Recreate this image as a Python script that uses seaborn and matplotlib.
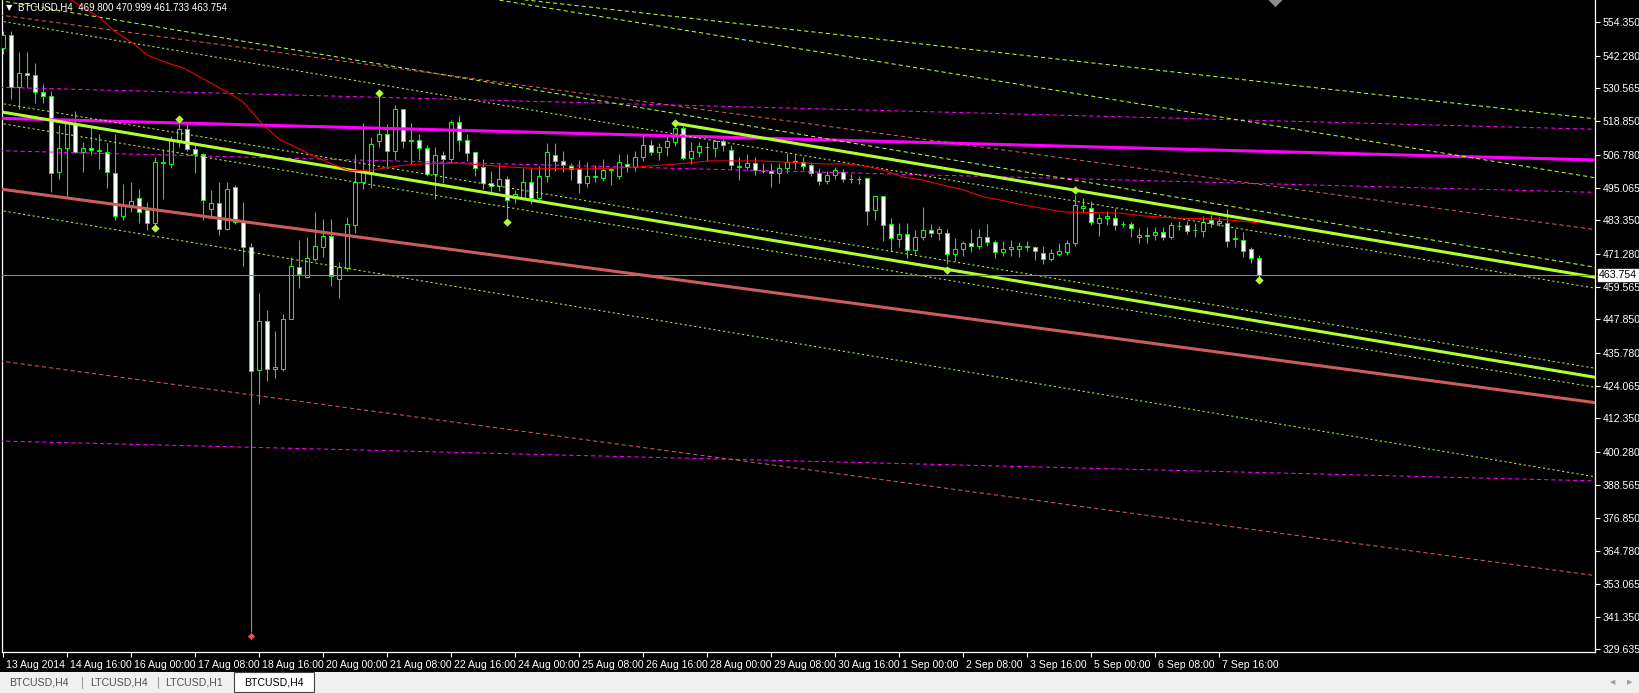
import numpy as np
import pandas as pd
import matplotlib
matplotlib.use("Agg")
import matplotlib.pyplot as plt
import matplotlib.transforms as mtrans
from matplotlib.patches import Rectangle
import seaborn as sns

# ------------------------------------------------------------------ #
# data (BTCUSD H4)
# ------------------------------------------------------------------ #
opens = [545.0, 549.7, 531.0, 536.0, 535.3, 529.2, 527.8, 500.6, 509.2, 518.1,
         507.8, 509.2, 508.2, 507.8, 500.2, 484.8, 488.8, 491.3, 487.0, 482.3,
         504.0, 503.5, 512.1, 516.0, 508.8, 507.0, 487.4, 489.5, 480.2, 495.2,
         482.7, 473.6, 429.7, 447.2, 430.2, 430.2, 447.9, 466.6, 463.0, 469.4,
         473.8, 477.7, 462.3, 466.3, 481.7, 497.0, 500.6, 511.8, 514.2, 508.3,
         523.2, 512.0, 512.1, 509.2, 500.0, 506.7, 505.4, 518.5, 512.1, 507.8,
         502.4, 496.8, 495.6, 498.1, 491.3, 491.3, 497.0, 491.3, 499.2, 506.7,
         504.6, 502.8, 501.7, 496.8, 499.0, 498.6, 501.5, 499.2, 503.5, 502.4,
         506.0, 510.3, 507.9, 509.4, 511.4, 516.4, 505.7, 507.9, 509.4, 509.1,
         511.8, 508.5, 502.9, 502.5, 503.8, 501.0, 501.0, 500.2, 502.2, 504.2,
         504.2, 503.1, 500.1, 497.5, 499.4, 500.7, 498.0, 498.2, 498.4, 487.0,
         492.0, 481.9, 476.6, 478.3, 472.7, 477.2, 479.8, 478.6, 478.6, 471.1,
         473.0, 475.1, 474.2, 477.2, 475.4, 471.9, 472.9, 473.1, 473.9, 473.6,
         471.5, 469.6, 471.3, 472.1, 475.1, 487.8, 487.8, 482.2, 484.0, 484.0,
         482.0, 481.9, 477.2, 477.8, 477.9, 479.1, 477.4, 481.4, 481.6, 479.8,
         479.6, 483.4, 482.4, 482.2, 476.6, 476.4, 472.9, 469.8]
highs = [551.1, 551.1, 543.6, 543.6, 539.6, 532.1, 529.6, 517.5, 518.5, 522.3,
         511.4, 516.7, 514.2, 511.0, 514.2, 496.3, 497.0, 494.5, 489.9, 506.0,
         508.9, 513.5, 519.2, 518.1, 511.0, 507.4, 494.2, 497.1, 497.0, 495.9,
         489.9, 475.2, 457.1, 451.2, 443.8, 449.7, 470.1, 476.2, 477.2, 486.3,
         483.8, 483.8, 468.4, 484.5, 507.1, 518.1, 513.1, 528.0, 517.8, 524.6,
         523.2, 518.1, 514.2, 510.3, 509.6, 508.3, 519.4, 520.7, 514.2, 507.8,
         505.2, 500.9, 503.5, 499.2, 494.2, 502.0, 502.0, 502.7, 511.0, 511.0,
         508.2, 504.0, 504.9, 504.3, 503.1, 505.2, 502.0, 507.1, 507.1, 508.2,
         513.9, 512.1, 511.1, 513.5, 518.9, 517.0, 511.4, 511.4, 511.4, 512.1,
         512.5, 510.3, 506.1, 507.1, 505.9, 503.8, 503.8, 503.8, 507.4, 507.1,
         506.1, 504.3, 502.0, 501.1, 502.5, 501.7, 499.8, 499.3, 498.6, 492.0,
         492.0, 484.0, 482.2, 482.5, 479.8, 488.0, 482.0, 481.3, 480.2, 477.1,
         476.0, 480.2, 480.2, 482.0, 476.2, 475.9, 476.2, 475.7, 475.9, 474.1,
         474.1, 472.9, 475.1, 476.2, 492.4, 491.3, 490.2, 485.6, 486.7, 487.6,
         483.1, 482.8, 480.4, 481.0, 481.0, 481.0, 482.8, 483.1, 483.2, 482.2,
         484.8, 485.2, 484.4, 487.4, 480.2, 479.2, 473.9, 471.0]
lows = [542.9, 526.7, 523.1, 530.7, 525.3, 525.3, 493.4, 498.1, 491.3, 507.5,
        500.6, 506.7, 501.7, 494.9, 483.4, 483.4, 486.3, 482.3, 479.8, 479.8,
        490.9, 502.0, 509.6, 508.0, 500.2, 483.4, 484.5, 478.0, 479.8, 481.9,
        467.0, 335.8, 417.6, 425.9, 426.8, 429.5, 447.9, 459.0, 462.6, 468.7,
        470.1, 459.9, 455.6, 465.2, 478.8, 494.7, 494.9, 509.6, 502.0, 504.9,
        509.2, 503.6, 504.9, 499.2, 490.9, 496.6, 504.0, 508.3, 504.6, 499.2,
        494.7, 493.4, 493.8, 484.0, 489.5, 490.6, 489.0, 490.0, 497.0, 501.0,
        500.6, 497.7, 493.1, 495.3, 497.0, 497.4, 496.0, 498.1, 500.6, 501.0,
        504.6, 506.7, 504.9, 506.4, 510.0, 505.0, 503.5, 506.1, 504.6, 506.0,
        508.0, 501.3, 497.7, 501.3, 499.6, 500.2, 495.3, 496.8, 500.2, 501.7,
        501.5, 499.2, 495.9, 496.3, 498.0, 497.0, 496.5, 496.3, 481.6, 483.4,
        476.0, 472.4, 473.6, 469.7, 471.2, 476.2, 477.2, 476.2, 467.6, 468.8,
        470.5, 472.1, 473.0, 474.0, 469.7, 470.4, 470.5, 470.1, 472.4, 469.1,
        467.6, 468.9, 470.5, 471.0, 474.1, 485.9, 481.6, 477.7, 481.6, 479.8,
        481.0, 477.2, 475.3, 475.3, 476.3, 476.2, 476.5, 480.0, 478.5, 477.5,
        477.4, 481.0, 481.2, 473.9, 473.8, 470.0, 468.2, 461.733]
closes = [549.7, 531.0, 536.0, 535.3, 529.2, 527.7, 500.2, 509.2, 518.1, 507.8,
          509.2, 508.5, 508.5, 500.6, 484.8, 488.8, 490.2, 486.3, 482.3, 504.2,
          504.2, 512.1, 516.0, 508.8, 507.0, 490.6, 489.5, 480.2, 494.5, 482.7,
          473.7, 429.3, 447.2, 430.2, 430.8, 447.9, 466.9, 464.2, 469.8, 474.1,
          477.7, 463.4, 466.6, 482.0, 497.0, 500.6, 510.6, 514.2, 508.3, 523.2,
          511.7, 511.8, 509.2, 500.0, 506.7, 505.4, 518.5, 512.1, 507.4, 502.0,
          496.8, 495.6, 498.1, 490.6, 492.7, 497.0, 491.3, 499.2, 507.8, 504.6,
          503.1, 501.7, 496.8, 499.2, 499.2, 501.3, 501.7, 504.2, 502.4, 506.0,
          510.3, 507.9, 509.6, 511.8, 516.4, 505.7, 508.1, 509.9, 509.6, 511.8,
          510.2, 503.1, 502.5, 503.8, 501.3, 501.1, 500.2, 502.0, 504.2, 504.4,
          502.9, 500.2, 497.5, 499.5, 501.3, 498.1, 498.2, 498.0, 486.8, 492.0,
          481.6, 476.9, 478.3, 472.7, 477.2, 479.8, 478.6, 480.2, 471.1, 473.0,
          475.1, 474.2, 477.2, 475.4, 471.9, 473.0, 473.6, 474.1, 473.9, 472.2,
          469.6, 471.5, 472.2, 475.1, 488.8, 488.5, 482.8, 484.0, 484.8, 481.6,
          482.1, 480.5, 478.0, 477.9, 479.1, 477.4, 481.6, 481.2, 479.6, 479.7,
          482.7, 482.4, 482.9, 476.0, 476.9, 472.3, 469.8, 463.754]

time_labels = ["13 Aug 2014", "14 Aug 16:00", "16 Aug 00:00", "17 Aug 08:00",
               "18 Aug 16:00", "20 Aug 00:00", "21 Aug 08:00", "22 Aug 16:00",
               "24 Aug 00:00", "25 Aug 08:00", "26 Aug 16:00", "28 Aug 00:00",
               "29 Aug 08:00", "30 Aug 16:00", "1 Sep 00:00", "2 Sep 08:00",
               "3 Sep 16:00", "5 Sep 00:00", "6 Sep 08:00", "7 Sep 16:00"]
time_label_bars = list(range(0, 160, 8))

price_ticks = [554.350, 542.280, 530.565, 518.850, 506.780, 495.065, 483.350,
               471.280, 459.565, 447.850, 435.780, 424.065, 412.350, 400.280,
               388.565, 376.850, 364.780, 353.065, 341.350, 329.635]

# red moving average (bar index, price)
ma_bars = [7.0, 8.5, 12.1, 14.0, 16.2, 18.0, 20.5, 22.5, 24.6, 28.0, 30.0, 32.5,
           34.6, 36.0, 38.2, 40.8, 43.3, 46.0, 49.3, 52.0, 56.7, 63.3, 65.8,
           73.3, 79.2, 84.2, 88.3, 94.6, 102.5, 105.5, 107.5, 110.0, 112.5,
           115.0, 117.5, 120.0, 122.5, 124.6, 127.5, 132.5, 139.6, 142.5,
           146.7, 152.0, 155.8, 157.0]
ma_vals = [565.5, 562.2, 555.8, 550.8, 546.8, 542.5, 539.7, 537.9, 534.6, 529.2,
           525.7, 517.4, 512.1, 510.3, 507.1, 503.8, 501.1, 501.3, 502.8, 503.5,
           503.8, 502.4, 502.0, 501.7, 502.4, 503.5, 504.6, 504.6, 503.5, 503.5,
           502.8, 501.3, 498.8, 497.7, 495.9, 494.2, 491.7, 490.6, 488.8, 486.3,
           485.9, 484.9, 484.1, 483.8, 482.7, 482.4]

# trend / channel objects: (bar0, price0, bar1, price1, colour, width, style)
channel_lines = [
    (-1, 519.90, 199, 504.92, "#ff00ff", 2.2, "solid"),
    (-1, 531.00, 199, 515.93, "#ff00ff", 0.75, "dash"),
    (-1, 508.29, 199, 493.33, "#ff00ff", 0.75, "dash"),
    (-1, 404.30, 199, 389.97, "#ff00ff", 0.75, "dash"),
    (-1, 522.50, 199, 427.07, "#adff2f", 2.2, "solid"),
    (-1, 525.51, 199, 430.30, "#adff2f", 0.75, "dot"),
    (-1, 518.34, 199, 423.50, "#adff2f", 0.75, "dot"),
    (-1, 487.15, 199, 391.44, "#adff2f", 0.75, "dot"),
    (84, 518.06, 199, 462.90, "#adff2f", 2.2, "solid"),
    (-1, 555.00, 199, 459.00, "#adff2f", 0.75, "dot"),
    (-1, 562.30, 199, 466.50, "#adff2f", 0.75, "dash"),
    (40, 572.40, 199, 498.56, "#adff2f", 0.75, "dash"),
    (40, 570.30, 199, 519.67, "#adff2f", 0.75, "dash"),
    (-1, 494.75, 199, 418.00, "#cd5c5c", 2.2, "solid"),
    (-1, 557.08, 199, 479.99, "#cd5c5c", 0.75, "dash"),
    (-1, 433.14, 199, 356.05, "#cd5c5c", 0.75, "dash"),
]

# zigzag / fractal points
marker_bars = [19, 22, 47, 63, 84, 118, 134, 157]
marker_vals = [480.6, 519.6, 528.9, 482.7, 518.2, 465.5, 494.2, 461.9]
spike_bar, spike_val = 31, 334.4

last_price = 463.754
header = "BTCUSD,H4  469.800 470.999 461.733 463.754"
tabs = ["BTCUSD,H4", "LTCUSD,H4", "LTCUSD,H1", "BTCUSD,H4"]

# ------------------------------------------------------------------ #
# style
# ------------------------------------------------------------------ #
sns.set_style("dark", {"axes.facecolor": "black", "figure.facecolor": "black"})
plt.rcParams["font.family"] = ["Liberation Sans", "DejaVu Sans"]
plt.rcParams["lines.scale_dashes"] = False

GREEN = "#00ff00"
W, H = 1640, 693

fig = plt.figure(figsize=(W / 100, H / 100), dpi=100)
fig.patch.set_facecolor("black")
ax = fig.add_axes([2 / W, 41 / H, 1593 / W, 652 / H])
ax.set_facecolor("black")

n = len(opens)
x = np.arange(n)
o, h, l, c = map(np.asarray, (opens, highs, lows, closes))

# wicks
ax.vlines(x, l, h, color=GREEN, lw=0.75, zorder=2)
# bodies: bear = white, bull = black
bear = c < o
body_lo = np.minimum(o, c)
body_h = np.maximum(np.abs(c - o), 0.15)
ax.bar(x[bear], body_h[bear], bottom=body_lo[bear], width=0.5,
       color="white", edgecolor=GREEN, linewidth=0.75, zorder=3)
ax.bar(x[~bear], body_h[~bear], bottom=body_lo[~bear], width=0.5,
       color="black", edgecolor=GREEN, linewidth=0.75, zorder=3)

# channel objects
dash_styles = {"solid": "-", "dash": (0, (3.0, 2.2)), "dot": (0, (1.5, 2.0))}
for b0, p0, b1, p1, col, lw, st in channel_lines:
    ax.plot([b0, b1], [p0, p1], color=col, lw=lw, ls=dash_styles[st],
            zorder=4, solid_capstyle="butt")

# moving average
ma_df = pd.DataFrame({"bar": ma_bars, "ma": ma_vals})
sns.lineplot(data=ma_df, x="bar", y="ma", color="#ff0000", lw=0.75,
             ax=ax, zorder=5, sort=False)

# current price line
ax.axhline(last_price, color="#778899", lw=0.75, zorder=4)

# markers
ax.scatter(marker_bars, marker_vals, marker="D", s=18, color="#adff2f",
           zorder=6, linewidths=0)
ax.scatter([spike_bar], [spike_val], marker="D", s=14, color="#e05050",
           zorder=6, linewidths=0)

# chart-shift marker at the top
ax.scatter([158.9], [562.6], marker="D", s=60, color="#8c8c8c", zorder=6,
           clip_on=True, linewidths=0)

ax.set_xlim(-0.1625, 198.96)
ax.set_ylim(328.68, 562.23)
ax.set_xlabel("")
ax.set_ylabel("")

# axes frame
ax.spines["top"].set_visible(False)
for side in ["left", "right", "bottom"]:
    ax.spines[side].set_visible(True)
    ax.spines[side].set_color("white")
    ax.spines[side].set_linewidth(0.9)
ax.grid(False)

# price axis on the right
ax.yaxis.tick_right()
ax.set_yticks(price_ticks)
ax.set_yticklabels([f"{p:.3f}" for p in price_ticks])
ax.tick_params(axis="y", colors="white", labelcolor="white", labelsize=7.6,
               length=3.5, width=0.8, pad=2, direction="out")

# time axis: MT4 draws the label to the right of the tick
ax.set_xticks(time_label_bars)
ax.set_xticklabels([])
ax.tick_params(axis="x", colors="white", length=3.5, width=0.8,
               direction="out", bottom=True)
trans = mtrans.blended_transform_factory(ax.transData, ax.transAxes)
for b, lab in zip(time_label_bars, time_labels):
    ax.text(b + 0.35, -0.0125, lab, transform=trans, ha="left", va="top",
            color="white", fontsize=7.6)

# last-price tag
ax.text(1.0025, last_price, f"{last_price:.3f}",
        transform=mtrans.blended_transform_factory(ax.transAxes, ax.transData),
        ha="left", va="center", color="black", fontsize=7.6, zorder=10,
        bbox=dict(boxstyle="square,pad=0.12", fc="white", ec="white"),
        clip_on=False)

# header
fig.text(6 / W, 1 - 7.5 / H, "\u25bc", color="white", fontsize=6,
         ha="left", va="center", family=["DejaVu Sans"])
fig.text(18 / W, 1 - 7.5 / H, header, color="white", fontsize=7.0,
         ha="left", va="center")

# tab bar
fig.patches.append(Rectangle((0, 0), 1, 21 / H, transform=fig.transFigure,
                             fc="#f0f0f0", ec="none", zorder=0))
fig.patches.append(Rectangle((234 / W, 1 / H), 80 / W, 20 / H,
                             transform=fig.transFigure, fc="white",
                             ec="#404040", lw=0.8, zorder=1))
tab_x = [39, 119, 194, 274]
for tx, name, active in zip(tab_x, tabs, [False, False, False, True]):
    fig.text(tx / W, 10.5 / H, name, color="black" if active else "#505050",
             fontsize=7.6, ha="center", va="center", zorder=2)
for sx in [82, 158.5]:
    fig.lines.append(plt.Line2D([sx / W, sx / W], [5 / H, 16 / H],
                                transform=fig.transFigure, color="#a0a0a0",
                                lw=0.8))
fig.text(1613 / W, 11 / H, "\u25c0", color="#a0a0a0", fontsize=5,
         ha="center", va="center", family=["DejaVu Sans"])
fig.text(1630 / W, 11 / H, "\u25b6", color="#a0a0a0", fontsize=5,
         ha="center", va="center", family=["DejaVu Sans"])

fig.savefig("out.png", dpi=100, facecolor="black")
